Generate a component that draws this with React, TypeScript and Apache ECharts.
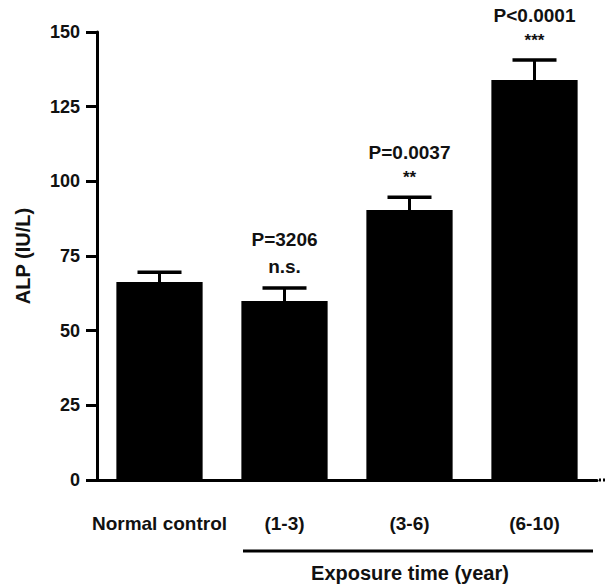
import React, { useEffect, useRef } from "react";
import * as echarts from "echarts";

const categories = ["Normal control", "(1-3)", "(3-6)", "(6-10)"];
const meanValues = [66.3, 59.9, 90.4, 133.9];
const errorValues = [3.3, 4.4, 4.3, 6.7];
const pLabels = ["", "P=3206", "P=0.0037", "P<0.0001"];
const sigLabels = ["", "n.s.", "**", "***"];
const yTicks = { min: 0, max: 150, interval: 25 };

const FONT = "'Liberation Sans', Arial, Helvetica, sans-serif";

export default function App() {
  const ref = useRef<HTMLDivElement>(null);
  useEffect(() => {
    document.body.style.margin = "0";
    if (!ref.current) return;
    const chart = echarts.init(ref.current, undefined, { renderer: "svg" });
    const errData = categories.map((_, i) => [i, meanValues[i], errorValues[i]]);
    chart.setOption({
      animation: false,
      backgroundColor: "#ffffff",
      grid: { left: 97, right: 9, top: 32, bottom: 107, containLabel: false },
      xAxis: {
        type: "category",
        data: categories,
        axisLine: { lineStyle: { color: "#000", width: 3 } },
        axisTick: { alignWithLabel: true, interval: 0, length: 15, lineStyle: { color: "#000", width: 3 } },
        axisLabel: { interval: 0, color: "#111", fontFamily: FONT, fontWeight: "bold", fontSize: 19, margin: 34 },
      },
      yAxis: {
        type: "value",
        min: yTicks.min,
        max: yTicks.max,
        interval: yTicks.interval,
        name: "ALP (IU/L)",
        nameLocation: "middle",
        nameRotate: 90,
        nameGap: 64,
        nameTextStyle: { color: "#111", fontFamily: FONT, fontWeight: "bold", fontSize: 20 },
        splitLine: { show: false },
        axisLine: { show: true, lineStyle: { color: "#000", width: 3 } },
        axisTick: { show: true, length: 11, lineStyle: { color: "#000", width: 3 } },
        axisLabel: { color: "#111", fontFamily: FONT, fontWeight: "bold", fontSize: 18, margin: 17 },
      },
      series: [
        {
          type: "bar",
          data: meanValues,
          barWidth: "69%",
          itemStyle: { color: "#000" },
          z: 2,
        },
        {
          type: "custom",
          data: errData,
          z: 3,
          renderItem: (params: any, api: any) => {
            const i = api.value(0);
            const m = api.value(1);
            const e = api.value(2);
            const base = api.coord([i, m]);
            const top = api.coord([i, m + e]);
            const half = 22;
            const children: any[] = [
              {
                type: "line",
                shape: { x1: base[0], y1: base[1], x2: top[0], y2: top[1] },
                style: { stroke: "#000", lineWidth: 3 },
              },
              {
                type: "line",
                shape: { x1: top[0] - half, y1: top[1], x2: top[0] + half, y2: top[1] },
                style: { stroke: "#000", lineWidth: 3.5 },
              },
            ];
            const sig = sigLabels[i];
            const p = pLabels[i];
            const isStar = sig.indexOf("*") >= 0;
            if (sig) {
              children.push({
                type: "text",
                x: top[0],
                y: top[1] - (isStar ? 20 : 21),
                style: {
                  text: sig,
                  fill: "#111",
                  font: `bold ${isStar ? 17 : 19}px ${FONT}`,
                  align: "center",
                  verticalAlign: "middle",
                },
              });
            }
            if (p) {
              children.push({
                type: "text",
                x: top[0],
                y: top[1] - (isStar ? 45 : 48),
                style: {
                  text: p,
                  fill: "#111",
                  font: `bold 19px ${FONT}`,
                  align: "center",
                  verticalAlign: "middle",
                },
              });
            }
            return { type: "group", children };
          },
        },
      ],
      graphic: [
        {
          type: "line",
          shape: { x1: 243, y1: 551, x2: 593, y2: 551 },
          style: { stroke: "#000", lineWidth: 3 },
        },
        {
          type: "text",
          x: 410,
          y: 573,
          style: {
            text: "Exposure time (year)",
            fill: "#111",
            font: `bold 20px ${FONT}`,
            align: "center",
            verticalAlign: "middle",
          },
        },
        {
          type: "line",
          shape: { x1: 599, y1: 480, x2: 606, y2: 480 },
          style: { stroke: "#000", lineWidth: 3, lineDash: [2, 2] },
        },
      ],
    });
    return () => chart.dispose();
  }, []);
  return <div ref={ref} style={{ width: 606, height: 587 }} />;
}
